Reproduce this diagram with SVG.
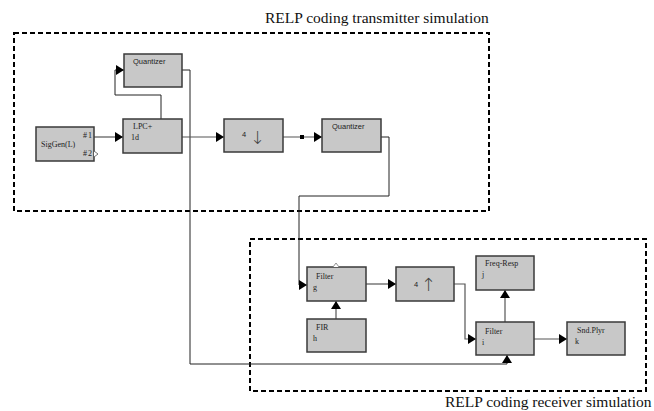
<svg xmlns="http://www.w3.org/2000/svg" width="654" height="411" viewBox="0 0 654 411">
<style>
.blk{fill:#c8c8c8;stroke:#3a3a3a;stroke-width:1.5}
.lbl{font-family:"Liberation Serif",serif;font-size:8px;fill:#222}
.lbls{font-family:"Liberation Sans",sans-serif;font-size:7.5px;fill:#222}
.arr{font-family:"DejaVu Sans",sans-serif;font-weight:200;font-size:18px;fill:#444}
.ttl{font-family:"Liberation Serif",serif;font-size:15.5px;fill:#111}
.frame{fill:none;stroke:#000;stroke-width:2;stroke-dasharray:5,3}
.c{fill:none;stroke:#555;stroke-width:1.2}
.cb{fill:none;stroke:#222;stroke-width:1}
</style>
<defs>
<marker id="ah" markerUnits="userSpaceOnUse" markerWidth="9" markerHeight="11" refX="8" refY="5" orient="auto">
<path d="M0,0 L8,5 L0,10 z" fill="#000"/>
</marker>
</defs>
<rect width="654" height="411" fill="#fff"/>
<g id="frames">
<rect class="frame" x="14" y="33" width="475" height="178"/>
<rect class="frame" x="250" y="239" width="396" height="152"/>
<text class="ttl" x="265" y="23">RELP coding transmitter simulation</text>
<text class="ttl" x="445" y="407">RELP coding receiver simulation</text>
</g>
<g id="connectors">
<path class="c" d="M94,137 H123" marker-end="url(#ah)"/>
<path class="cb" d="M161,119 V95 H115 V70 H124" marker-end="url(#ah)"/>
<path class="cb" d="M182,70 H190 V364 H507 V355" marker-end="url(#ah)"/>
<path class="c" d="M182,137 H224" marker-end="url(#ah)"/>
<path class="c" d="M283,137 H322" marker-end="url(#ah)"/>
<rect x="300" y="135" width="4" height="4" fill="#000"/>
<path class="cb" d="M381,137 H389 V196 H299 V285 H307" marker-end="url(#ah)"/>
<path class="c" d="M336,319 V301" marker-end="url(#ah)"/>
<path class="c" d="M366,284 H396" marker-end="url(#ah)"/>
<path class="c" d="M454,284 H465 V339 H476" marker-end="url(#ah)"/>
<path class="c" d="M505,322 V290" marker-end="url(#ah)"/>
<path class="c" d="M534,339 H567" marker-end="url(#ah)"/>
</g>
<g id="sigGen">
<rect class="blk" x="36" y="127" width="58" height="34"/>
<text class="lbl" x="41" y="147">SigGen(L)</text>
<text class="lbl" x="83" y="138" font-size="7">#</text>
<text class="lbl" x="88" y="138">1</text>
<text class="lbl" x="83" y="156" font-size="7">#</text>
<text class="lbl" x="88" y="156">2</text>
<path d="M94,151 L98,154 L94,157" fill="#fff" stroke="#555" stroke-width="0.8"/>
</g>
<g id="quantizer1">
<rect class="blk" x="124" y="54" width="58" height="33"/>
<text class="lbls" x="133" y="64">Quantizer</text>
</g>
<g id="lpc">
<rect class="blk" x="123" y="119" width="59" height="34"/>
<text class="lbl" x="133" y="129">LPC+</text>
<text class="lbl" x="131" y="140">1d</text>
</g>
<g id="downsample">
<rect class="blk" x="224" y="119" width="59" height="33"/>
<text class="lbls" x="242" y="137" font-size="6">4</text>
<text class="arr" x="250" y="144">↓</text>
</g>
<g id="quantizer2">
<rect class="blk" x="322" y="119" width="59" height="33"/>
<text class="lbls" x="332" y="129">Quantizer</text>
</g>
<g id="filterG">
<rect class="blk" x="307" y="267" width="59" height="34"/>
<text class="lbl" x="316" y="279">Filter</text>
<text class="lbl" x="313" y="290">g</text>
<path d="M333,267 L336,263 L339,267" fill="#fff" stroke="#777" stroke-width="0.8"/>
</g>
<g id="upsample">
<rect class="blk" x="396" y="267" width="58" height="34"/>
<text class="lbls" x="414" y="287" font-size="6.5">4</text>
<text class="arr" x="421" y="291">↑</text>
</g>
<g id="firH">
<rect class="blk" x="307" y="319" width="59" height="33"/>
<text class="lbl" x="316" y="330">FIR</text>
<text class="lbl" x="313" y="341">h</text>
</g>
<g id="freqRespJ">
<rect class="blk" x="476" y="256" width="58" height="34"/>
<text class="lbl" x="485" y="266">Freq-Resp</text>
<text class="lbl" x="482" y="277">j</text>
</g>
<g id="filterI">
<rect class="blk" x="476" y="322" width="58" height="33"/>
<text class="lbl" x="485" y="334">Filter</text>
<text class="lbl" x="482" y="345">i</text>
</g>
<g id="sndPlyrK">
<rect class="blk" x="567" y="322" width="58" height="33"/>
<text class="lbl" x="577" y="333">Snd.Plyr</text>
<text class="lbl" x="575" y="344">k</text>
</g>
</svg>
